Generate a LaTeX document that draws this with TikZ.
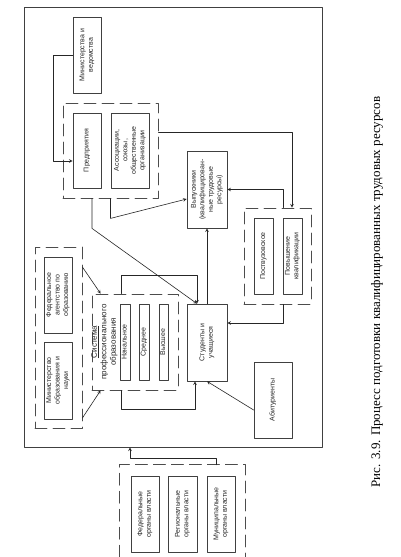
\documentclass[tikz,border=0pt]{standalone}
\usepackage{fontspec}
\setmainfont{Liberation Serif}
\setsansfont{Liberation Sans}
\usepackage{graphicx}
\usepackage{tikz}
\usetikzlibrary{calc}
\usetikzlibrary{arrows}

\newcommand{\vtext}[1]{\rotatebox{90}{\begin{tabular}{@{}c@{}}#1\end{tabular}}}

\begin{document}
\begin{tikzpicture}[x=1pt, y=-1pt, line cap=round, line join=round, >=stealth,
    box/.style={draw=black!75, line width=0.7pt, inner sep=0pt, text=black!85,
      font=\sffamily\fontsize{7}{8.5}\selectfont},
    grp/.style={draw=black!70, line width=0.8pt, dash pattern=on 12pt off 6pt},
    wire/.style={black!85, line width=0.6pt}]
  \useasboundingbox (0,0) rectangle (401,557);
  \fill[white] (0,0) rectangle (401,557);
  %--- Outer frame
    \node[draw=black!75, line width=0.8pt, minimum width=298, minimum height=440] (frame) at (173,227) {};
  %--- Ministries and departments
    \node[box, minimum width=28, minimum height=76] (min) at (87,55) {\vtext{Министерства и\\ведомства}};
  %--- Enterprises and associations
    \node[grp, minimum width=95, minimum height=95] (entgrp) at (110.5,150.5) {};
    \node[box, minimum width=28, minimum height=75] (ent) at (87,150.5) {\vtext{Предприятия}};
    \node[box, minimum width=38, minimum height=75] (assoc) at (130,150.5) {\vtext{Ассоциации,\\союзы,\\общественные\\организации}};
  %--- Graduates and students
    \node[box, minimum width=40, minimum height=77] (grad) at (207,189.5) {\vtext{Выпускники\\(квалифицирован-\\ные трудовые\\ресурсы)}};
    \node[box, minimum width=40, minimum height=77] (stud) at (207,342.5) {\vtext{Студенты и\\учащиеся}};
    \node[box, minimum width=38, minimum height=76] (abit) at (273,400) {\vtext{Абитуриенты}};
  %--- Postgraduate education
    \node[grp, minimum width=67, minimum height=96] (postgrp) at (277.5,256) {};
    \node[box, minimum width=19, minimum height=76] (post) at (263.5,256) {\vtext{Поствузовское}};
    \node[box, minimum width=19, minimum height=76] (qual) at (292.5,256) {\vtext{Повышение\\квалификации}};
  %--- Vocational education system
    \node[grp, minimum width=86, minimum height=96] (sysgrp) at (135,342) {};
    \node[text=black!85, font=\sffamily\fontsize{8}{9.5}\selectfont, inner sep=0pt] (syslbl) at (104.5,342)
      {\vtext{\underline{Система}\\профессионального\\образования}};
    \node[box, minimum width=10, minimum height=76] (prim) at (125,342) {\vtext{Начальное}};
    \node[box, minimum width=10, minimum height=76] (sec) at (144,342) {\vtext{Среднее}};
    \node[box, minimum width=9, minimum height=76] (high) at (163.5,342) {\vtext{Высшее}};
  %--- Ministry of education
    \node[grp, minimum width=47, minimum height=181] (mingrp) at (58.5,337.5) {};
    \node[box, minimum width=28, minimum height=76] (fedag) at (58,295) {\vtext{Федеральное\\агентство по\\образованию}};
    \node[box, minimum width=28, minimum height=77] (minobr) at (58,380.5) {\vtext{Министерство\\образования и\\науки}};
  %--- Authorities
    \node[minimum width=125, minimum height=92] (authgrp) at (182.5,511) {};
    \draw[grp] (authgrp.south west) |- (authgrp.north east) -- (authgrp.south east);
    \node[box, minimum width=28, minimum height=76] (fedorg) at (145,514) {\vtext{Федеральные\\органы власти}};
    \node[box, minimum width=29, minimum height=76] (regorg) at (182.5,514) {\vtext{Региональные\\органы власти}};
    \node[box, minimum width=28, minimum height=76] (munorg) at (221,514) {\vtext{Муниципальные\\органы власти}};
  %--- Connectors
    \draw[wire, ->] (min.west) -- ++(-19,0) |- ([yshift=-10.5pt]ent.west);
    \draw[wire, ->] ([yshift=18.5pt]entgrp.east) -| ([xshift=14.5pt]postgrp.north);
    \draw[wire, ->] ([xshift=5.5pt]postgrp.north) |- (grad.east);
    \draw[wire, ->] ([xshift=5.5pt]postgrp.south) |- ([yshift=19.5pt]stud.east);
    \draw[wire, ->] (stud.north) -- (grad.south);
    \draw[wire, ->] ([yshift=-10pt]abit.west) -- (stud.south);
    \draw[wire, ->] (entgrp.south) -- ++(0,20) -- ([yshift=-9.5pt]grad.west);
    \draw[wire, ->] ([xshift=-18.5pt]entgrp.south) -- ++(0,30) -- ([xshift=-10pt]stud.north);
    \draw[wire, ->] ([xshift=-14pt]sysgrp.north) -- ++(0,-18) -| ([xshift=-10pt]stud.north);
    \draw[wire, ->] ([xshift=-14pt]sysgrp.south) -- ++(0,19) -| ([xshift=-12pt]stud.south);
    \draw[wire, ->] ([yshift=70.5pt]mingrp.east) -- ([xshift=9pt]sysgrp.north west);
    \draw[wire, ->] ([yshift=-80.5pt]mingrp.east) -- ([xshift=9pt]sysgrp.south west);
    \draw[wire, ->] ([xshift=33.5pt]authgrp.north) -- ++(0,-7) -| ([xshift=-43pt]frame.south);
  %--- Caption
    \node[font=\fontsize{13}{15}\selectfont, inner sep=0pt] (cap) at (377,292)
      {\rotatebox{90}{Рис. 3.9. Процесс подготовки квалифицированных трудовых ресурсов}};
\end{tikzpicture}
\end{document}
